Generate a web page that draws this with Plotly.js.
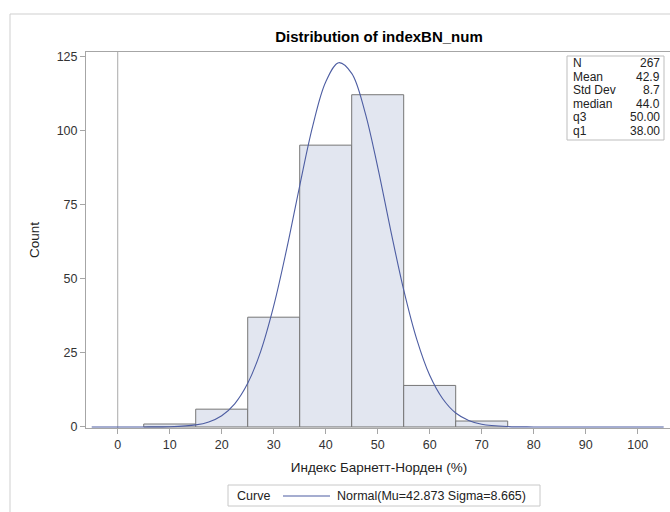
<!DOCTYPE html>
<html>
<head>
<meta charset="utf-8">
<script src="https://cdn.plot.ly/plotly-3.0.1.min.js"></script>
<style>
html,body{margin:0;padding:0;overflow:hidden;background:#fff;}
#chart{width:675px;height:512px;}
</style>
</head>
<body>
<div id="chart"></div>
<script>
// Histogram bins (midpoints) and counts
const binMid = [10, 20, 30, 40, 50, 60, 70];
const binCount = [1, 6, 37, 95, 112, 14, 2];

// Fitted normal curve
const curveX = [-5, 0, 5, 10, 15, 17.5, 20, 22.5, 25, 27.5, 30, 32.5, 35, 37.5, 40, 42.5, 45, 47.5, 50, 52.5, 55, 57.5, 60, 62.5, 65, 67.5, 70, 75, 80, 85, 90, 95, 100, 105];
const curveY = [0, 0, 0.01, 0.09, 0.7, 1.7, 3.8, 7.8, 14.7, 25.5, 40.8, 60.0, 81.3, 101.4, 116.3, 122.8, 119.2, 106.5, 87.6, 66.3, 46.2, 29.6, 17.4, 9.5, 4.7, 2.2, 0.9, 0.13, 0.01, 0, 0, 0, 0, 0];

// Stats inset
const statLabels = ["N", "Mean", "Std Dev", "median", "q3", "q1"];
const statValues = ["267", "42.9", "8.7", "44.0", "50.00", "38.00"];

// Legend text
const legendTitle = "Curve";
const legendEntry = "Normal(Mu=42.873 Sigma=8.665)";

const xTicks = [0, 10, 20, 30, 40, 50, 60, 70, 80, 90, 100];
const yTicks = [0, 25, 50, 75, 100, 125];

const FONT = "Liberation Sans, Arial, sans-serif";
const CURVE_COLOR = "#4d5da2";

const W = 675, H = 512, ML = 86, MR = 3, MT = 52, MB = 84;
const PW = W - ML - MR, PH = H - MT - MB;
const px = p => (p - ML) / PW;
const py = p => (H - MB - p) / PH;

const traces = [
  {
    type: "bar", x: binMid, y: binCount, width: 10,
    marker: {color: "#e2e6f0", line: {color: "#767676", width: 1}},
    showlegend: false, hoverinfo: "x+y"
  },
  {
    type: "scatter", mode: "lines", x: curveX, y: curveY,
    line: {color: CURVE_COLOR, width: 1.1, shape: "spline"},
    name: legendEntry, showlegend: false
  }
];

const annotations = [];
const rowY = [63, 76.6, 90.2, 103.8, 117.4, 131];
statLabels.forEach((s, i) => {
  annotations.push({xref: "paper", yref: "paper", x: px(571), y: py(rowY[i]), xanchor: "left", yanchor: "middle",
    text: s, showarrow: false, font: {family: FONT, size: 12, color: "#222"}});
  annotations.push({xref: "paper", yref: "paper", x: px(662), y: py(rowY[i]), xanchor: "right", yanchor: "middle",
    text: statValues[i], showarrow: false, font: {family: FONT, size: 12, color: "#222"}});
});
// legend
annotations.push({xref: "paper", yref: "paper", x: px(235), y: py(496), xanchor: "left", yanchor: "middle",
  text: legendTitle, showarrow: false, font: {family: FONT, size: 12.5, color: "#222"}});
annotations.push({xref: "paper", yref: "paper", x: px(335), y: py(496), xanchor: "left", yanchor: "middle",
  text: legendEntry, showarrow: false, font: {family: FONT, size: 12.5, color: "#222"}});

const shapes = [
  // page border
  {type: "rect", xref: "paper", yref: "paper", x0: px(10), x1: px(700), y0: py(600), y1: py(14),
    line: {color: "#cfcfcf", width: 1}, fillcolor: "rgba(0,0,0,0)", layer: "below"},
  // zero reference line
  {type: "line", xref: "x", yref: "paper", x0: 0, x1: 0, y0: 0, y1: 1, line: {color: "#a9a9a9", width: 1}, layer: "below"},
  // stats box
  {type: "rect", xref: "paper", yref: "paper", x0: px(567), x1: px(664), y0: py(140), y1: py(56),
    line: {color: "#bdbdbd", width: 1}, fillcolor: "rgba(0,0,0,0)"},
  // legend box
  {type: "rect", xref: "paper", yref: "paper", x0: px(228), x1: px(540), y0: py(506), y1: py(485),
    line: {color: "#c8c8c8", width: 1}, fillcolor: "rgba(0,0,0,0)"},
  // legend line sample
  {type: "line", xref: "paper", yref: "paper", x0: px(283), x1: px(330), y0: py(496), y1: py(496),
    line: {color: CURVE_COLOR, width: 1.1}}
];

const layout = {
  width: W, height: H,
  margin: {l: ML, r: MR, t: MT, b: MB, pad: 0, autoexpand: false},
  paper_bgcolor: "rgba(0,0,0,0)", plot_bgcolor: "rgba(0,0,0,0)",
  font: {family: FONT, size: 12, color: "#333"},
  title: {text: "<b>Distribution of indexBN_num</b>", font: {family: FONT, size: 15, color: "#000"},
    x: 0.5, xref: "paper", y: 1 - 37 / H, yanchor: "middle"},
  bargap: 0,
  xaxis: {
    range: [-6.1, 106.6], tickvals: xTicks, ticktext: xTicks.map(String),
    showgrid: false, zeroline: false, showline: true, mirror: true, linecolor: "#a6a6a6", linewidth: 1,
    ticks: "outside", ticklen: 5, tickcolor: "#a6a6a6",
    tickfont: {family: FONT, size: 12.5, color: "#333"},
    title: {text: "Индекс Барнетт-Норден (%)", font: {family: FONT, size: 13.5, color: "#222"}, standoff: 11}
  },
  yaxis: {
    range: [-0.35, 126.4], tickvals: yTicks, ticktext: yTicks.map(String),
    showgrid: false, zeroline: false, showline: true, mirror: true, linecolor: "#a6a6a6", linewidth: 1,
    ticks: "outside", ticklen: 5, tickcolor: "#a6a6a6",
    tickfont: {family: FONT, size: 12.5, color: "#333"},
    title: {text: "Count", font: {family: FONT, size: 13.5, color: "#222"}, standoff: 13}
  },
  showlegend: false,
  annotations: annotations,
  shapes: shapes
};

Plotly.newPlot("chart", traces, layout, {displayModeBar: false, staticPlot: true});
</script>
</body>
</html>
